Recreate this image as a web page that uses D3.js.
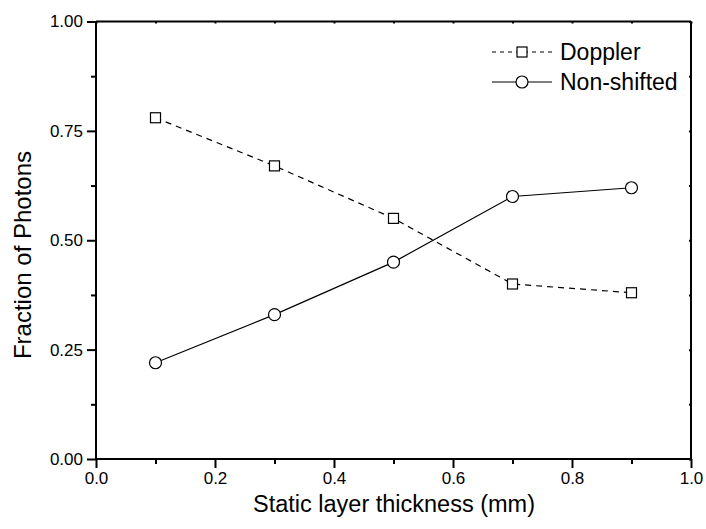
<!DOCTYPE html>
<html>
<head>
<meta charset="utf-8">
<script src="https://cdn.jsdelivr.net/npm/d3@7"></script>
<style>
  body { margin: 0; background: #fff; }
  svg { font-family: "Liberation Sans", Arial, sans-serif; }
</style>
</head>
<body>
<svg width="706" height="529"></svg>
<script>
let thickness = [0.1, 0.3, 0.5, 0.7, 0.9];
let doppler = [0.78, 0.67, 0.55, 0.40, 0.38];
let nonShifted = [0.22, 0.33, 0.45, 0.60, 0.62];
let xTicks = [0, 0.2, 0.4, 0.6, 0.8, 1.0];
let yTicks = [0, 0.25, 0.5, 0.75, 1.0];
let xMinor = [0.1, 0.3, 0.5, 0.7, 0.9];
let yMinor = [0.125, 0.375, 0.625, 0.875];

let svg = d3.select("svg");
let pl = 96, pr = 691, pt = 21.5, pb = 459;

let xScale = d3.scaleLinear().domain([0, 1]).range([pl, pr]);
let yScale = d3.scaleLinear().domain([0, 1]).range([pb, pt]);

let xAxis = d3.axisBottom(xScale).tickValues(xTicks).tickFormat(d3.format(".1f")).tickSize(9).tickPadding(4);
let gx = svg.append("g").attr("transform", "translate(0," + pb + ")").call(xAxis);
gx.append("g").call(d3.axisBottom(xScale).tickValues(xMinor).tickSize(5).tickFormat(""))
    .select(".domain").remove();

let yAxis = d3.axisLeft(yScale).tickValues(yTicks).tickFormat(d3.format(".2f")).tickSize(9).tickPadding(4);
let gy = svg.append("g").attr("transform", "translate(" + pl + ",0)").call(yAxis);
gy.append("g").call(d3.axisLeft(yScale).tickValues(yMinor).tickSize(5).tickFormat(""))
    .select(".domain").remove();

let gt = svg.append("g").attr("transform", "translate(0," + pt + ")")
    .call(d3.axisBottom(xScale).tickValues(xTicks.concat(xMinor)).tickSize(2).tickFormat(""));
let gr = svg.append("g").attr("transform", "translate(" + pr + ",0)")
    .call(d3.axisLeft(yScale).tickValues(yTicks.concat(yMinor)).tickSize(2).tickFormat(""));

svg.selectAll(".domain").attr("stroke", "#000").attr("stroke-width", 2);
svg.selectAll(".tick line").attr("stroke", "#000").attr("stroke-width", 2);
svg.selectAll(".tick text").attr("fill", "#000").style("font-size", "17px");
gt.select(".domain").attr("d", "M" + pl + ",0H" + pr);
gr.select(".domain").attr("d", "M0," + pt + "V" + pb);
gx.select(".domain").attr("d", "M" + pl + ",0H" + pr);
gy.select(".domain").attr("d", "M0," + pt + "V" + pb);

let line = d3.line().x((d, i) => xScale(thickness[i])).y(d => yScale(d));

svg.append("path").datum(doppler).attr("d", line)
    .attr("fill", "none").attr("stroke", "#000").attr("stroke-width", 1.2)
    .attr("stroke-dasharray", "6,5");
svg.append("path").datum(nonShifted).attr("d", line)
    .attr("fill", "none").attr("stroke", "#000").attr("stroke-width", 1.2);

svg.selectAll(".sq").data(doppler).enter().append("rect")
    .attr("x", (d, i) => xScale(thickness[i]) - 5)
    .attr("y", d => yScale(d) - 5)
    .attr("width", 10).attr("height", 10)
    .attr("fill", "#fff").attr("stroke", "#000").attr("stroke-width", 1.2);

svg.selectAll(".ci").data(nonShifted).enter().append("circle")
    .attr("cx", (d, i) => xScale(thickness[i]))
    .attr("cy", d => yScale(d))
    .attr("r", 6)
    .attr("fill", "#fff").attr("stroke", "#000").attr("stroke-width", 1.2);

// legend
let lg = svg.append("g");
lg.append("line").attr("x1", 492).attr("x2", 552).attr("y1", 52).attr("y2", 52)
    .attr("stroke", "#000").attr("stroke-width", 1.2).attr("stroke-dasharray", "4,4");
lg.append("rect").attr("x", 517).attr("y", 47).attr("width", 10).attr("height", 10)
    .attr("fill", "#fff").attr("stroke", "#000").attr("stroke-width", 1.2);
lg.append("text").attr("x", 560).attr("y", 60).text("Doppler").style("font-size", "23px");
lg.append("line").attr("x1", 492).attr("x2", 552).attr("y1", 82).attr("y2", 82)
    .attr("stroke", "#000").attr("stroke-width", 1.2);
lg.append("circle").attr("cx", 522).attr("cy", 82).attr("r", 6)
    .attr("fill", "#fff").attr("stroke", "#000").attr("stroke-width", 1.2);
lg.append("text").attr("x", 560).attr("y", 90).text("Non-shifted").style("font-size", "23px");

// axis titles
svg.append("text").attr("x", 394).attr("y", 512)
    .attr("text-anchor", "middle").style("font-size", "23.5px").text("Static layer thickness (mm)");
svg.append("text").attr("transform", "translate(31,255) rotate(-90)")
    .attr("text-anchor", "middle").style("font-size", "24px").text("Fraction of Photons");
</script>
</body>
</html>
